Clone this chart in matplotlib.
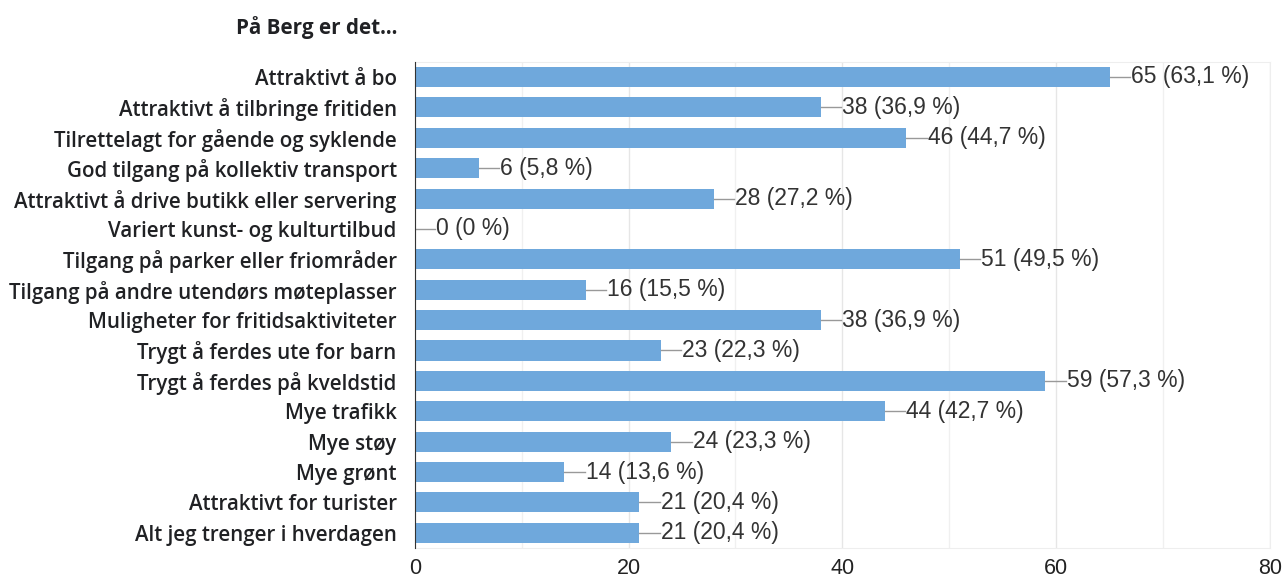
import matplotlib.pyplot as plt
import numpy as np

categories = [
    "Attraktivt å bo",
    "Attraktivt å tilbringe fritiden",
    "Tilrettelagt for gående og syklende",
    "God tilgang på kollektiv transport",
    "Attraktivt å drive butikk eller servering",
    "Variert kunst- og kulturtilbud",
    "Tilgang på parker eller friområder",
    "Tilgang på andre utendørs møteplasser",
    "Muligheter for fritidsaktiviteter",
    "Trygt å ferdes ute for barn",
    "Trygt å ferdes på kveldstid",
    "Mye trafikk",
    "Mye støy",
    "Mye grønt",
    "Attraktivt for turister",
    "Alt jeg trenger i hverdagen",
]
counts = [65, 38, 46, 6, 28, 0, 51, 16, 38, 23, 59, 44, 24, 14, 21, 21]
percents = ["63,1", "36,9", "44,7", "5,8", "27,2", "0", "49,5", "15,5",
            "36,9", "22,3", "57,3", "42,7", "23,3", "13,6", "20,4", "20,4"]
title = "På Berg er det..."

plt.rcParams['font.family'] = ['Liberation Sans', 'DejaVu Sans']
label_font = ['Open Sans', 'DejaVu Sans']

fig = plt.figure(figsize=(12.84, 5.83), dpi=100)
ax = fig.add_axes([0.323, 0.060, 0.666, 0.834])

y = np.arange(len(categories))
ax.barh(y, counts, height=0.66, color="#6fa8dc", zorder=3)

for yi, c, p in zip(y, counts, percents):
    ax.plot([c, c + 1.9], [yi, yi], color="#999999", lw=1, zorder=3)
    ax.text(c + 2.0, yi, f"{c} ({p} %)", va="center", ha="left",
            fontsize=16.5, color="#333333", zorder=4)

ax.set_ylim(len(categories) - 0.5, -0.5)
ax.set_xlim(0, 80)
ax.set_yticks(y)
ax.set_yticklabels(categories, fontsize=14.8, fontweight="semibold",
                   family=label_font, color="#202124")
ax.set_xticks([0, 20, 40, 60, 80])
ax.set_xticks(np.arange(10, 80, 20), minor=True)
ax.tick_params(axis="x", labelsize=15.5, colors="#222222", length=0, pad=7)
ax.tick_params(axis="x", which="minor", length=0)
ax.tick_params(axis="y", length=0, pad=13)

ax.grid(axis="x", which="major", color="#e6e6e6", lw=1, zorder=0)
ax.grid(axis="x", which="minor", color="#f0f0f0", lw=1, zorder=0)

for s in ["top", "right", "bottom"]:
    ax.spines[s].set_color("#eeeeee")
ax.spines["left"].set_color("#333333")
ax.spines["left"].set_zorder(5)

fig.text(0.184, 0.952, title, fontsize=14.9, fontweight="bold", family=label_font,
         color="#202124", va="center", ha="left")

fig.savefig("out.png", dpi=100)
